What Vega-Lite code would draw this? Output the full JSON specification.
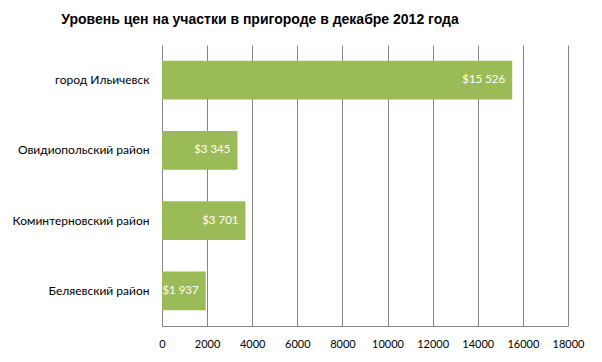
{
  "$schema": "https://vega.github.io/schema/vega-lite/v6.json",
  "width": 406,
  "height": 281,
  "autosize": "none",
  "padding": {"left": 162, "top": 45, "right": 34, "bottom": 36},
  "background": "#ffffff",
  "config": {
    "view": {"stroke": null},
    "locale": {
      "number": {"decimal": ",", "thousands": " ", "grouping": [3], "currency": ["$", ""]}
    }
  },
  "title": {
    "text": "Уровень цен на участки в пригороде в декабре 2012 года",
    "font": "Liberation Sans",
    "fontSize": 14,
    "fontWeight": "bold",
    "color": "#000000",
    "anchor": "middle",
    "dx": -105,
    "offset": 18
  },
  "data": {
    "values": [
      {"district": "город Ильичевск", "price": 15526},
      {"district": "Овидиопольский район", "price": 3345},
      {"district": "Коминтерновский район", "price": 3701},
      {"district": "Беляевский район", "price": 1937}
    ]
  },
  "encoding": {
    "y": {
      "field": "district",
      "type": "nominal",
      "sort": null,
      "scale": {"paddingInner": 0.45, "paddingOuter": 0.225},
      "axis": {
        "title": null,
        "ticks": false,
        "domainColor": "#868686",
        "labelFont": "Lato",
        "labelFontSize": 12,
        "labelColor": "#000000",
        "labelPadding": 13,
        "labelLimit": 200
      }
    },
    "x": {
      "field": "price",
      "type": "quantitative",
      "scale": {"domain": [0, 18000], "nice": false},
      "axis": {
        "title": null,
        "values": [0, 2000, 4000, 6000, 8000, 10000, 12000, 14000, 16000, 18000],
        "format": "d",
        "ticks": false,
        "grid": true,
        "gridColor": "#868686",
        "gridOpacity": 1,
        "domainColor": "#868686",
        "labelFont": "Lato",
        "labelFontSize": 11,
        "labelColor": "#000000",
        "labelPadding": 12,
        "labelFlush": false
      }
    }
  },
  "layer": [
    {
      "mark": {"type": "bar", "color": "#9BBB59"}
    },
    {
      "mark": {"type": "text", "align": "right", "dx": -7, "font": "Lato", "fontSize": 11.5, "color": "#ffffff"},
      "encoding": {
        "text": {"field": "price", "type": "quantitative", "format": "$,d"}
      }
    }
  ]
}
